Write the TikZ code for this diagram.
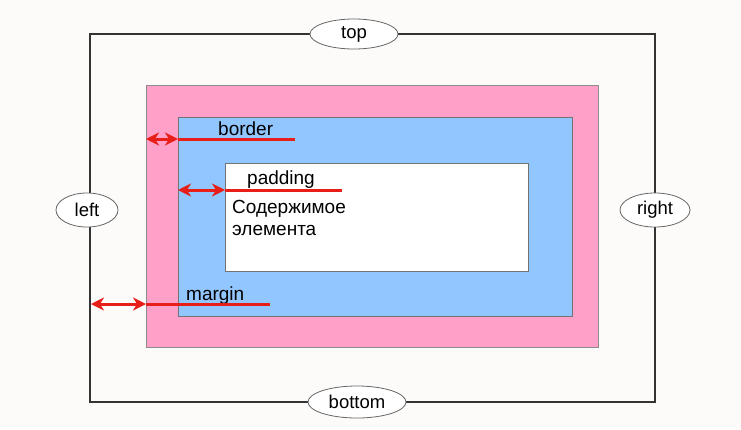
\documentclass[tikz,border=0pt]{standalone}
\usepackage{fontspec}
\setmainfont{Liberation Sans}
\usetikzlibrary{arrows.meta,shapes.geometric}
\definecolor{boxpink}{RGB}{255,160,200}
\definecolor{boxblue}{RGB}{146,198,255}
\definecolor{arrowred}{RGB}{232,30,24}
\tikzset{
  side/.style={ellipse,draw=black!60,fill=white,line width=0.8pt,inner sep=0pt,font=\fontsize{18.5}{21}\selectfont},
  label/.style={anchor=base west,inner sep=0pt,font=\fontsize{19}{22}\selectfont},
  redline/.style={arrowred,line width=3pt},
  twohead/.style={redline,{Stealth[length=13pt,width=13pt,inset=4pt]}-{Stealth[length=13pt,width=13pt,inset=4pt]}}
}
\begin{document}
\begin{tikzpicture}[x=1pt,y=-1pt]
    \useasboundingbox[fill=white!97!brown] (0,0) rectangle (741,429);
    % boxes
    \draw[black!80,line width=2.5pt] (90,34) rectangle (655,402);
    \draw[fill=boxpink,draw=black!45,line width=0.5pt] (146,85) rectangle (598,347);
    \draw[fill=boxblue,draw=black!55,line width=0.5pt] (178,117) rectangle (572,316);
    \draw[fill=white,draw=black!55,line width=0.5pt] (225,163) rectangle (528,271);
    % sides
    \node[side,minimum width=88pt,minimum height=30pt] (top) at (354,34) {top};
    \node[side,minimum width=62pt,minimum height=34pt] (left) at (87,210) {left};
    \node[side,minimum width=70pt,minimum height=34pt] (right) at (655,210) {right};
    \node[side,minimum width=98pt,minimum height=32pt] (bottom) at (357,402) {bottom};
    % labels
    \node[label] (border) at (218,135) {border};
    \node[label] (padding) at (247,184) {padding};
    \node[label] (margin) at (186,300) {margin};
    \node[label] (content) at (232,213) {Содержимое};
    \node[label] (content2) at (232,235) {элемента};
    % arrows
    \coordinate (b1) at (146,139);
    \coordinate (b2) at (178,139);
    \coordinate (b3) at (295,139);
    \coordinate (p1) at (178,190);
    \coordinate (p2) at (225,190);
    \coordinate (p3) at (342,190);
    \coordinate (m1) at (91,304);
    \coordinate (m2) at (146,304);
    \coordinate (m3) at (270,304);
    \draw[redline] (b2) -- (b3);
    \draw[twohead] (b1) -- (b2);
    \draw[redline] (p2) -- (p3);
    \draw[twohead] (p1) -- (p2);
    \draw[redline] (m2) -- (m3);
    \draw[twohead] (m1) -- (m2);
\end{tikzpicture}
\end{document}
